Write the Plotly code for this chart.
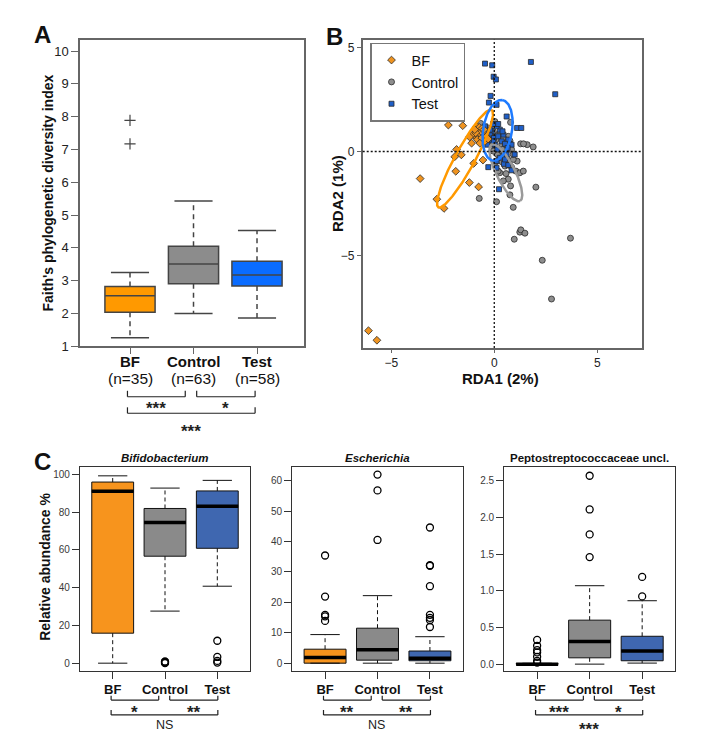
import numpy as np
import plotly.graph_objects as go

# page is offset by the browser's default 8px body margin
OFF = 8
W, H = 685, 737
def fx(px): return (px - OFF) / W
def fy(py): return 1 - (py - OFF) / H

FONT = "Liberation Sans, Arial, sans-serif"

GROUPS = ["BF", "Control", "Test"]
N_SIZES = [35, 63, 58]

# ---------------- Panel A: Faith's PD ----------------
A_Q1 = [2.04, 2.91, 2.84]
A_MED = [2.54, 3.51, 3.17]
A_Q3 = [2.82, 4.05, 3.59]
A_LO = [1.26, 2.00, 1.86]
A_HI = [3.25, 5.43, 4.53]
A_OUT = [[7.17, 7.89], [], []]
A_COLORS = ["#FF9900", "#8C8C8C", "#0A6CFF"]
A_SIG = ["***", "*", "***"]

# ---------------- Panel B: RDA ----------------
BF_X = [-6.11, -5.70, -3.60, -2.79, -2.44, -2.23, -1.53, -1.83, -1.92, -1.60, -1.87, -1.21,
        -1.00, -0.76, -0.55, -1.10, -0.86, -0.78, -0.69, -0.94, -0.82, -0.61, -0.53, -0.45,
        -1.05, -0.73, -0.37, -0.65, -0.90, -0.60, -0.70, -1.20, -0.50, -0.95, -0.30]
BF_Y = [-8.60, -9.06, -1.30, -2.29, -2.73, 1.27, 1.24, 0.10, -0.25, -0.16, -0.95, -1.49,
        -0.57, -1.70, -0.41, 0.40, 1.21, 1.00, 0.81, 0.73, 0.57, 0.65, 0.89, 0.49,
        0.81, 1.16, 0.73, 0.97, 0.90, 1.10, 0.40, 0.70, 1.05, 1.05, 0.60]
CTRL_X = [-0.73, 0.11, 0.92, 0.97, 1.24, 1.29, 1.49, 3.70, 2.33, 2.78, 2.02, 1.89, 1.60, 1.28,
          1.42, 0.79, 0.03, -0.66, 0.76, 0.79, 0.68, 0.44, 0.57, 0.27, 0.19, 1.05, 1.24, 1.41,
          1.11, 0.92, 0.73, 0.84, 0.60, 0.44, 0.27, 0.11, -0.05, -0.21, -0.37, 0.36, 0.52, 0.68,
          0.76, 0.44, 0.19, -0.05, -0.29, -0.13, 0.08, 0.24, 0.36, 0.03, 0.52, 0.63, 0.15, 0.40,
          0.57, -0.05, -0.53, 0.84, 0.92, 0.31]
CTRL_Y = [-2.25, -2.41, -2.68, -4.21, -3.87, -3.76, -3.92, -4.16, -5.22, -7.08, -1.71, 0.22, 0.33, 0.37,
          0.37, 1.40, 1.44, 1.35, -2.08, -1.65, -1.33, -1.41, -1.06, -1.02, -0.94, -0.94, -1.02, -0.94,
          -0.46, -0.38, -0.62, -0.75, -0.30, -0.14, 0.02, 0.10, 0.33, 0.49, 0.65, 0.33, 0.49, 0.73,
          0.52, 0.65, 0.81, 0.97, 1.13, 0.73, 0.57, -0.22, -0.49, -0.54, -0.70, 0.10, -0.14, 0.10,
          0.33, 0.02, 1.05, 0.10, -0.14, 0.89]
TEST_X = [-0.45, -0.10, -0.03, 0.08, 1.78, 2.96, -0.18, -0.26, 0.11, 0.60, 1.11, 1.31, -0.29,
          0.23, 0.11, 0.47, 0.84, 0.68, 0.99, 0.73, 0.68, 0.44, 0.27, 0.11, -0.13, -0.45, -0.69,
          -0.86, -0.37, -0.21, -0.02, 0.19, 0.36, 0.52, 0.03, -0.05, -0.26, -0.53, 0.15, 0.27,
          0.11, 0.60, 0.84, -0.21, 0.19, 0.65, 0.40, -0.06, -0.34, 0.52]
TEST_Y = [4.22, 4.14, 3.59, 3.46, 4.30, 2.75, 2.67, 2.35, 2.24, 1.68, 1.13, 1.13, -0.75,
          -1.81, -0.78, -0.59, -0.90, -0.65, -0.14, 0.38, 0.57, 0.81, 1.05, 1.21, 0.97, 1.21, 1.05,
          0.89, 0.89, 0.78, 0.65, 0.73, 0.49, 0.37, 0.33, 0.49, 0.57, 0.62, 0.10, -0.30,
          -0.46, -0.14, 0.33, 1.05, 1.32, 0.17, 0.97, 1.32, 0.33, -0.38]
B_COLORS = ["#EE9320", "#8E8E8E", "#1F5FC8"]
B_SYMBOLS = ["diamond", "circle", "square"]
# group ellipses: centre, semi-axes, rotation (deg)
ELL_CX = [-1.42, 0.56, 0.16]
ELL_CY = [-0.34, -1.02, 1.02]
ELL_A = [2.67, 1.52, 1.47]
ELL_B = [0.48, 0.45, 0.70]
ELL_ANG = [61.0, -63.0, 80.6]
ELL_COLORS = ["#FF9900", "#9A9A9A", "#1E7BFF"]

# ---------------- Panel C: genus abundances ----------------
C_TITLES = ["<b><i>Bifidobacterium</i></b>", "<b><i>Escherichia</i></b>", "<b>Peptostreptococcaceae uncl.</b>"]
C_Q1 = [[15.9, 56.7, 60.9], [0.0, 1.0, 0.8], [0.0, 0.086, 0.046]]
C_MED = [[91.1, 74.5, 83.2], [1.9, 4.4, 1.6], [0.0, 0.31, 0.18]]
C_Q3 = [[96.0, 82.0, 91.3], [4.6, 11.5, 4.0], [0.008, 0.60, 0.38]]
C_LO = [[0.0, 27.6, 40.8], [0.0, 0.0, 0.0], [0.0, 0.0, 0.014]]
C_HI = [[99.3, 92.8, 96.9], [9.4, 22.2, 8.7], [0.012, 1.07, 0.865]]
C_OUT = [
    [[], [0.0, 0.3, 0.6, 0.9], [11.9, 3.3, 1.2, 0.3]],
    [[35.4, 21.9, 15.9, 15.4, 13.9], [62.0, 56.8, 40.5], [44.6, 32.2, 32.0, 25.3, 15.9, 14.9, 14.2, 11.9]],
    [[0.33, 0.25, 0.19, 0.16, 0.10, 0.045, 0.02], [2.57, 2.11, 1.77, 1.46], [1.19, 0.924]],
]
C_RANGES = [[-4, 104], [-2.48, 64.5], [-0.09, 2.69]]
C_DTICK = [20, 10, 0.5]
C_TICKFMT = ["d", "d", ".1f"]
C_COLORS = ["#F7941D", "#8A8A8A", "#3F67B0"]
C_SIG = [["*", "**", "NS"], ["**", "**", "NS"], ["***", "*", "***"]]

fig = go.Figure()

def add_boxes(xa, ya, q1, med, q3, lo, hi, outs, colors, box_w, cap_hw, line_col, line_w,
              dash, med_col=None, med_w=None, out_marker=None):
    for i in range(3):
        p = i + 1
        fig.add_trace(go.Scatter(x=[p, p, None, p, p], y=[q3[i], hi[i], None, q1[i], lo[i]],
                                 mode="lines", line=dict(color=line_col, width=line_w, dash=dash),
                                 xaxis=xa, yaxis=ya, showlegend=False, hoverinfo="skip"))
        fig.add_trace(go.Scatter(x=[p - cap_hw, p + cap_hw, None, p - cap_hw, p + cap_hw],
                                 y=[hi[i], hi[i], None, lo[i], lo[i]],
                                 mode="lines", line=dict(color=line_col, width=line_w),
                                 xaxis=xa, yaxis=ya, showlegend=False, hoverinfo="skip"))
        fig.add_trace(go.Box(x=[p], q1=[q1[i]], median=[med[i]], q3=[q3[i]],
                             lowerfence=[q1[i]], upperfence=[q3[i]], orientation="v",
                             width=box_w, fillcolor=colors[i], whiskerwidth=0,
                             line=dict(color=line_col, width=line_w), boxpoints=False,
                             xaxis=xa, yaxis=ya, showlegend=False, hoverinfo="skip"))
        if med_col:
            fig.add_trace(go.Scatter(x=[p - box_w / 2, p + box_w / 2], y=[med[i], med[i]],
                                     mode="lines", line=dict(color=med_col, width=med_w),
                                     xaxis=xa, yaxis=ya, showlegend=False, hoverinfo="skip"))
        if outs[i]:
            fig.add_trace(go.Scatter(x=[p] * len(outs[i]), y=outs[i], mode="markers",
                                     marker=out_marker, xaxis=xa, yaxis=ya,
                                     showlegend=False, hoverinfo="skip"))

# Panel A
add_boxes("x", "y", A_Q1, A_MED, A_Q3, A_LO, A_HI, A_OUT, A_COLORS, 0.79, 0.30,
          "#444444", 1.5, "5px,4px",
          out_marker=dict(symbol="cross-thin", size=8, line=dict(color="#444444", width=1.2)))

# Panel B points
for gx, gy, name, col, sym, size, rank in [
    (CTRL_X, CTRL_Y, "Control", B_COLORS[1], B_SYMBOLS[1], 6, 2),
    (TEST_X, TEST_Y, "Test", B_COLORS[2], B_SYMBOLS[2], 5, 3),
    (BF_X, BF_Y, "BF", B_COLORS[0], B_SYMBOLS[0], 6, 1),
]:
    fig.add_trace(go.Scatter(x=gx, y=gy, mode="markers", name=name, legendrank=rank,
                             marker=dict(symbol=sym, size=size, color=col,
                                         line=dict(color="#2a2a2a", width=0.8)),
                             xaxis="x2", yaxis="y2", hoverinfo="skip"))
t = np.linspace(0, 2 * np.pi, 200)
for i in range(3):
    th = np.deg2rad(ELL_ANG[i])
    ex = ELL_CX[i] + ELL_A[i] * np.cos(t) * np.cos(th) - ELL_B[i] * np.sin(t) * np.sin(th)
    ey = ELL_CY[i] + ELL_A[i] * np.cos(t) * np.sin(th) + ELL_B[i] * np.sin(t) * np.cos(th)
    fig.add_trace(go.Scatter(x=ex, y=ey, mode="lines", line=dict(color=ELL_COLORS[i], width=2.5),
                             xaxis="x2", yaxis="y2", showlegend=False, hoverinfo="skip"))

# Panel C
for k in range(3):
    xa, ya = f"x{k+3}", f"y{k+3}"
    add_boxes(xa, ya, C_Q1[k], C_MED[k], C_Q3[k], C_LO[k], C_HI[k], C_OUT[k], C_COLORS,
              0.8, 0.28, "#111111", 1.0, "4px,3px", med_col="#000000", med_w=3.5,
              out_marker=dict(symbol="circle-open", size=7, color="#000000",
                              line=dict(color="#000000", width=1.3)))

# ---------------- axes ----------------
def frame(col, lw, tl):
    return dict(showline=True, mirror=True, linecolor=col, linewidth=lw,
                showgrid=False, zeroline=False, ticks="outside", ticklen=tl,
                tickcolor=col, tickwidth=1)

layout = dict(
    width=W, height=H, autosize=False, margin=dict(l=0, r=0, t=0, b=0),
    paper_bgcolor="white", plot_bgcolor="white", boxmode="overlay",
    font=dict(family=FONT, color="#111111"),
    xaxis=dict(domain=[fx(80), fx(304)], range=[0.2126, 3.74], tickvals=[1, 2, 3],
               showticklabels=False, anchor="y", **frame("#666666", 1.5, 6)),
    yaxis=dict(domain=[fy(350), fy(40)], range=[1.0, 10.35], dtick=1,
               tickfont=dict(size=13, color="#222222"), anchor="x", **frame("#666666", 1.5, 7)),
    xaxis2=dict(domain=[fx(362.7), fx(641.7)], range=[-6.39, 7.16], tickvals=[-5, 0, 5],
                tickfont=dict(size=12, color="#222222"), anchor="y2", **frame("#666666", 1.5, 3)),
    yaxis2=dict(domain=[fy(351.7), fy(40)], range=[-9.43, 5.37], tickvals=[-5, 0, 5],
                tickfont=dict(size=12, color="#222222"), anchor="x2", **frame("#666666", 1.5, 4)),
    legend=dict(x=fx(370), y=fy(43), xanchor="left", yanchor="top", bgcolor="white",
                bordercolor="#777777", borderwidth=1.5, font=dict(size=14.5, color="#111111"),
                itemwidth=30, tracegroupgap=0, traceorder="normal"),
)
C_XD = [(80, 250), (292.3, 462.7), (504.3, 675)]
for k in range(3):
    xs = "xaxis" + str(k + 3)
    ys = "yaxis" + str(k + 3)
    layout[xs] = dict(domain=[fx(C_XD[k][0]), fx(C_XD[k][1])], range=[0.375, 3.625],
                      tickvals=[1, 2, 3], ticktext=[f"<b>{g}</b>" for g in GROUPS],
                      tickfont=dict(size=13, color="#111111"), anchor=f"y{k+3}",
                      **frame("#333333", 1.2, 7))
    layout[ys] = dict(domain=[fy(678), fy(472)], range=C_RANGES[k], dtick=C_DTICK[k],
                      tickformat=C_TICKFMT[k], tickfont=dict(size=10, color="#3a3a3a"),
                      anchor=f"x{k+3}", **frame("#333333", 1.2, 7))
fig.update_layout(**layout)

# ---------------- annotations ----------------
ann = []
def text(x, y, s, size, xref="paper", yref="paper", angle=0, xanchor="center", yanchor="middle", color="#111111"):
    ann.append(dict(x=x, y=y, xref=xref, yref=yref, text=s, showarrow=False, textangle=angle,
                    xanchor=xanchor, yanchor=yanchor, font=dict(size=size, color=color, family=FONT)))

text(fx(42), fy(35), "<b>A</b>", 24)
text(fx(334), fy(37), "<b>B</b>", 24)
text(fx(42), fy(466), "<b>C</b>", 24)
text(fx(47.5), fy(195), "<b>Faith's phylogenetic diversity index</b>", 14, angle=-90)
text(fx(338), fy(196), "<b>RDA2 (1%)</b>", 15, angle=-90)
text(fx(500), fy(383), "<b>RDA1 (2%)</b>", 15)
text(fx(45), fy(573), "<b>Relative abundance %</b>", 14, angle=-90)
for k in range(3):
    text(fx((C_XD[k][0] + C_XD[k][1]) / 2), fy(463), C_TITLES[k], 11.5)
# Panel A category labels with group sizes
for i, (g, n) in enumerate(zip(GROUPS, N_SIZES)):
    text(i + 1, fy(365), f"<b>{g}</b>", 15, xref="x")
    text(i + 1, fy(383), f"(n={n})", 15.5, xref="x")

shapes = []
shapes.append(dict(type="line", xref="x2", yref="y2 domain", x0=0, x1=0, y0=0, y1=1,
                   line=dict(color="#111111", width=1.3, dash="2px,2px")))
shapes.append(dict(type="line", xref="x2 domain", yref="y2", x0=0, x1=1, y0=0, y1=0,
                   line=dict(color="#111111", width=1.3, dash="2px,2px")))

def brackets(xref, spans, labels, lv1, lv2, lab1, lab2, color):
    levels = [lv1, lv1, lv2]
    labys = [lab1, lab1, lab2]
    for (x0, x1), lab, (ytop, ybot), ly in zip(spans, labels, levels, labys):
        for a, b, c, d in [(x0, ytop, x0, ybot), (x0, ybot, x1, ybot), (x1, ybot, x1, ytop)]:
            shapes.append(dict(type="line", xref=xref, yref="paper", x0=a, y0=fy(b), x1=c, y1=fy(d),
                               line=dict(color=color, width=1.2)))
        star = "*" in lab
        if star:
            text((x0 + x1) / 2, fy(ly + 5), f"<b>{lab}</b>", 17, xref=xref, color=color)
        else:
            text((x0 + x1) / 2, fy(ly), lab, 12.5, xref=xref, color=color)

brackets("x", [(0.96, 1.87), (2.05, 2.97), (0.96, 2.97)], A_SIG,
         (395, 401), (411.7, 417.7), 408, 431, "#222222")
for k in range(3):
    brackets(f"x{k+3}", [(0.97, 1.88), (2.09, 3.01), (0.97, 3.01)], C_SIG[k],
             (703.3, 707.7), (717.7, 722.7), 715, 732.5, "#222222")

fig.update_layout(annotations=ann, shapes=shapes)
fig.write_html("out.html")
